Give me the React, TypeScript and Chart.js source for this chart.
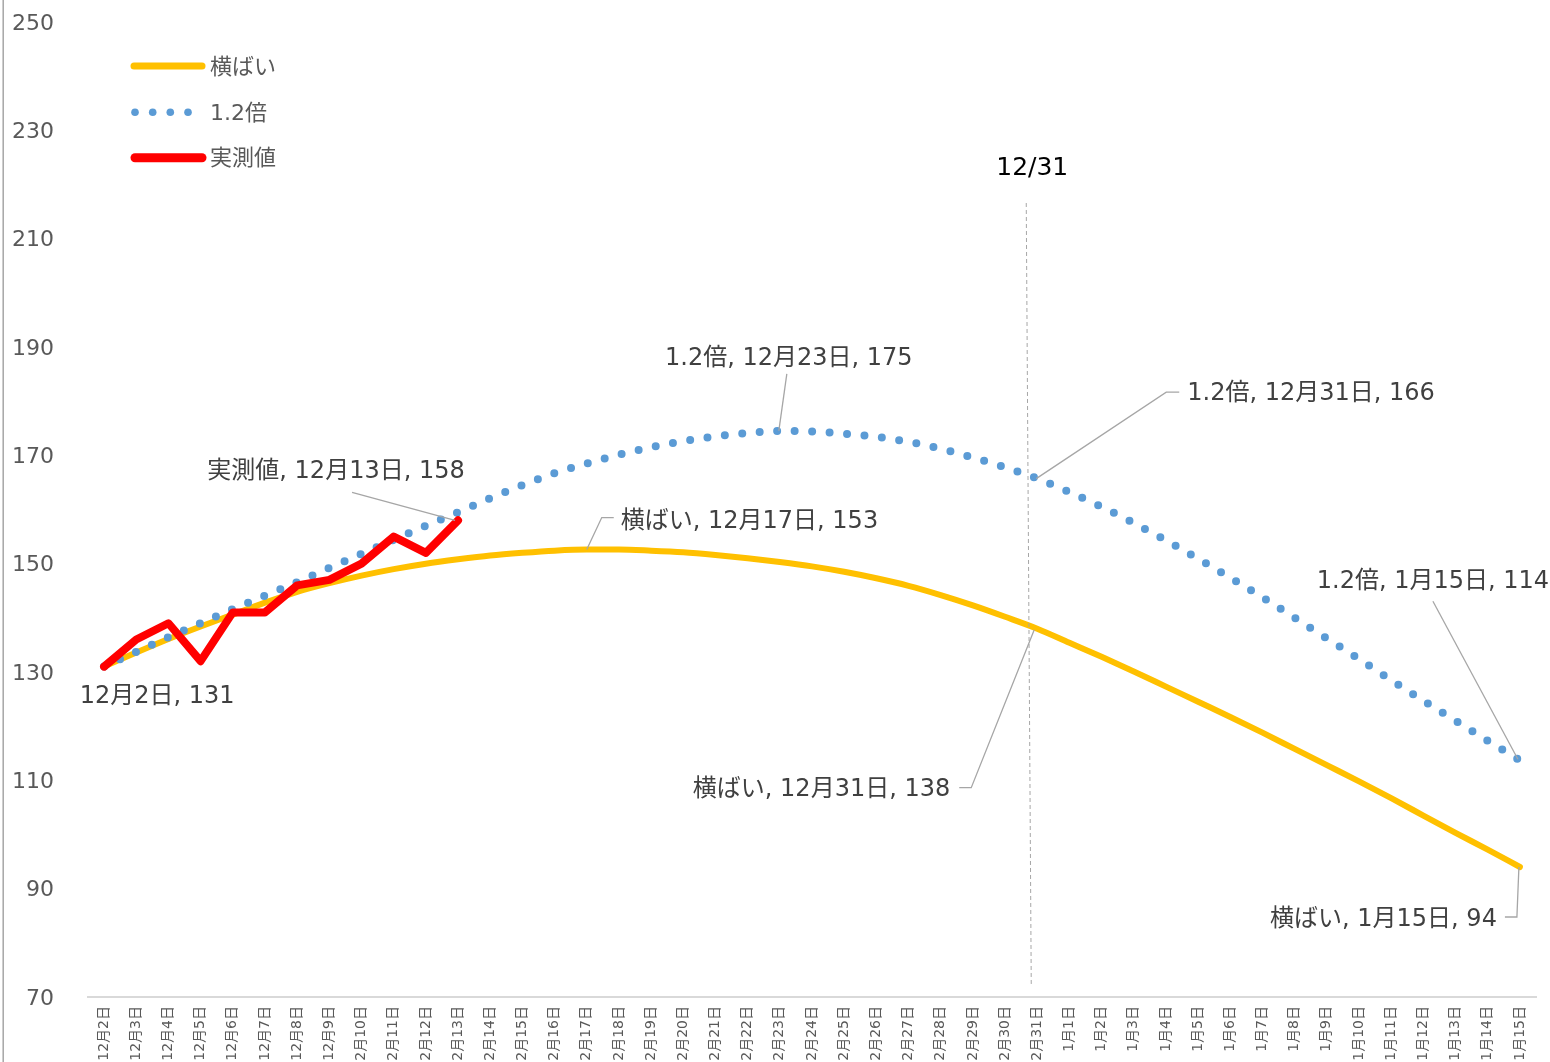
import React, { useEffect, useRef } from 'react';
import { Chart, registerables } from 'chart.js';

Chart.register(...registerables);

const categories = [
  '12月2日', '12月3日', '12月4日', '12月5日', '12月6日', '12月7日', '12月8日', '12月9日',
  '12月10日', '12月11日', '12月12日', '12月13日', '12月14日', '12月15日', '12月16日',
  '12月17日', '12月18日', '12月19日', '12月20日', '12月21日', '12月22日', '12月23日',
  '12月24日', '12月25日', '12月26日', '12月27日', '12月28日', '12月29日', '12月30日',
  '12月31日', '1月1日', '1月2日', '1月3日', '1月4日', '1月5日', '1月6日', '1月7日',
  '1月8日', '1月9日', '1月10日', '1月11日', '1月12日', '1月13日', '1月14日', '1月15日',
];

const flatValues = [
  131.0, 133.6, 136.1, 138.4, 140.6, 142.8, 144.8, 146.4, 147.8, 149.0, 150.0, 150.8,
  151.5, 152.0, 152.4, 152.6, 152.6, 152.4, 152.1, 151.6, 151.0, 150.3, 149.5, 148.5,
  147.3, 145.9, 144.2, 142.3, 140.2, 138.0, 135.4, 132.8, 130.1, 127.3, 124.5, 121.7,
  118.8, 115.8, 112.8, 109.8, 106.7, 103.5, 100.3, 97.2, 94.0,
];

const ratioValues = [
  131.0, 133.7, 136.4, 139.0, 141.6, 144.1, 146.6, 149.2, 151.8, 154.4, 157.0, 159.5,
  162.1, 164.5, 166.7, 168.5, 170.1, 171.5, 172.6, 173.5, 174.1, 174.5, 174.4, 174.0,
  173.4, 172.5, 171.2, 169.6, 167.8, 165.7, 163.2, 160.5, 157.5, 154.3, 150.9, 147.4,
  143.8, 140.0, 136.2, 132.4, 128.5, 124.7, 121.0, 117.3, 113.7,
];

const actualValues = [131, 136, 139, 132, 141, 141, 146, 147, 150, 155, 152, 158];

const yMin = 70;
const yMax = 250;
const yStep = 20;

const SERIES_FLAT = '横ばい';
const SERIES_RATIO = '1.2倍';
const SERIES_ACTUAL = '実測値';
const MARK_LABEL = '12/31';
const MARK_INDEX = 29;

const FONT = "'DejaVu Sans', 'Noto Sans CJK JP', sans-serif";
const C_FLAT = '#FFC000';
const C_RATIO = '#5B9BD5';
const C_ACTUAL = '#FF0000';
const C_TEXT = '#404040';
const C_AXIS = '#595959';
const C_LEADER = '#a6a6a6';
const TEXT_DY = 2;

// data label definitions: dataset index, point index, offsets, alignment, leader polyline (relative to point)
const dataLabels = [
  { ds: 0, i: 0, noName: true, dx: 53, dy: 28, align: 'center', leader: [] as number[][] },
  { ds: 0, i: 11, dx: -122, dy: -51, align: 'center', leader: [[-106, -28], [-3, 0]] },
  { ds: 2, i: 15, dx: 34, dy: -30, align: 'left', leader: [[0, 0], [15, -32], [27, -32]] },
  { ds: 1, i: 21, dx: 9, dy: -74, align: 'center', leader: [[-1, 0], [7, -57]] },
  { ds: 1, i: 29, dx: 150, dy: -86.5, align: 'left', leader: [[-1, 0], [129, -86.5], [142, -86.5]] },
  { ds: 2, i: 29, dx: -87, dy: 159, align: 'right', leader: [[-3, 1], [-66, 159], [-78, 159]] },
  { ds: 1, i: 44, dx: -87, dy: -181, align: 'center', leader: [[-2, -1], [-87, -159]] },
  { ds: 2, i: 44, dx: -23, dy: 51, align: 'right', leader: [[-1, 0], [-3, 50], [-15, 50]] },
];

export default function App() {
  const ref = useRef<HTMLCanvasElement>(null);

  useEffect(() => {
    const canvas = ref.current;
    if (!canvas) return;

    const overlay = {
      id: 'overlay',
      afterDraw(chart: any) {
        const ctx = chart.ctx as CanvasRenderingContext2D;
        const xs = chart.scales.x;
        const ys = chart.scales.y;
        ctx.save();

        // left frame line
        ctx.strokeStyle = '#a6a6a6';
        ctx.lineWidth = 1.5;
        ctx.beginPath();
        ctx.moveTo(3.2, 0);
        ctx.lineTo(3.2, chart.height);
        ctx.stroke();

        // vertical marker line at 12/31
        const mx = xs.getPixelForValue(MARK_INDEX);
        ctx.strokeStyle = '#a6a6a6';
        ctx.lineWidth = 1;
        ctx.setLineDash([4, 3]);
        ctx.beginPath();
        ctx.moveTo(mx - 11, 203);
        ctx.lineTo(mx - 6, 984);
        ctx.stroke();
        ctx.setLineDash([]);

        ctx.fillStyle = '#000000';
        ctx.font = `25px ${FONT}`;
        ctx.textAlign = 'center';
        ctx.textBaseline = 'middle';
        ctx.fillText(MARK_LABEL, mx - 5, 166 + TEXT_DY);

        // data labels
        const dsData = [actualValues, ratioValues, flatValues];
        const dsNames = [SERIES_ACTUAL, SERIES_RATIO, SERIES_FLAT];
        ctx.font = `24px ${FONT}`;
        for (const l of dataLabels) {
          const v = dsData[l.ds][l.i];
          const px = xs.getPixelForValue(l.i);
          const py = ys.getPixelForValue(v);
          if (l.leader.length > 1) {
            ctx.strokeStyle = C_LEADER;
            ctx.lineWidth = 1.3;
            ctx.beginPath();
            l.leader.forEach((p, k) => {
              if (k === 0) ctx.moveTo(px + p[0], py + p[1]);
              else ctx.lineTo(px + p[0], py + p[1]);
            });
            ctx.stroke();
          }
          const text = (l.noName ? '' : dsNames[l.ds] + ', ') + categories[l.i] + ', ' + Math.round(v);
          ctx.fillStyle = C_TEXT;
          ctx.textAlign = l.align as CanvasTextAlign;
          ctx.textBaseline = 'middle';
          ctx.fillText(text, px + l.dx, py + l.dy + TEXT_DY);
        }

        // legend
        ctx.lineCap = 'round';
        ctx.strokeStyle = C_FLAT;
        ctx.lineWidth = 7;
        ctx.beginPath();
        ctx.moveTo(134, 66);
        ctx.lineTo(202, 66);
        ctx.stroke();

        ctx.fillStyle = C_RATIO;
        [135, 152.7, 170.3, 188].forEach((x) => {
          ctx.beginPath();
          ctx.arc(x, 112.3, 3.8, 0, Math.PI * 2);
          ctx.fill();
        });

        ctx.strokeStyle = C_ACTUAL;
        ctx.lineWidth = 9;
        ctx.beginPath();
        ctx.moveTo(135, 157.7);
        ctx.lineTo(202, 157.7);
        ctx.stroke();

        ctx.fillStyle = C_AXIS;
        ctx.font = `22px ${FONT}`;
        ctx.textAlign = 'left';
        ctx.textBaseline = 'middle';
        ctx.fillText(SERIES_FLAT, 210, 66 + TEXT_DY);
        ctx.fillText(SERIES_RATIO, 210, 112.3 + TEXT_DY);
        ctx.fillText(SERIES_ACTUAL, 210, 157.7 + TEXT_DY);

        ctx.restore();
      },
    };

    const chart = new Chart(canvas, {
      type: 'line',
      data: {
        labels: categories,
        datasets: [
          {
            label: SERIES_ACTUAL,
            data: actualValues,
            borderColor: C_ACTUAL,
            borderWidth: 8,
            borderJoinStyle: 'round',
            borderCapStyle: 'round',
            pointRadius: 0,
            tension: 0,
            order: 0,
          },
          {
            label: SERIES_RATIO,
            data: ratioValues,
            borderColor: C_RATIO,
            borderWidth: 8,
            borderDash: [0, 17.5],
            borderCapStyle: 'round',
            pointRadius: 0,
            cubicInterpolationMode: 'monotone',
            order: 1,
          },
          {
            label: SERIES_FLAT,
            data: flatValues,
            borderColor: C_FLAT,
            borderWidth: 6,
            borderCapStyle: 'round',
            pointRadius: 0,
            cubicInterpolationMode: 'monotone',
            order: 2,
          },
        ],
      },
      options: {
        responsive: false,
        animation: false,
        devicePixelRatio: 1,
        layout: { padding: { top: 22, right: 14, left: 0, bottom: 0 } },
        plugins: { legend: { display: false }, tooltip: { enabled: false } },
        scales: {
          x: {
            type: 'category',
            offset: true,
            grid: { display: false, drawTicks: false },
            border: { display: true, color: '#d9d9d9', width: 2 },
            ticks: {
              autoSkip: false,
              minRotation: 90,
              maxRotation: 90,
              padding: 9,
              color: C_AXIS,
              font: { family: FONT, size: 14 },
            },
            afterFit: (s: any) => {
              s.height = 65;
              s.paddingLeft = 0;
              s.paddingRight = 0;
            },
          },
          y: {
            min: yMin,
            max: yMax,
            grid: { display: false, drawTicks: false },
            border: { display: false },
            ticks: {
              stepSize: yStep,
              padding: 34,
              labelOffset: TEXT_DY,
              color: C_AXIS,
              font: { family: FONT, size: 22 },
            },
            afterFit: (s: any) => {
              s.width = 88;
              s.paddingTop = 0;
              s.paddingBottom = 0;
            },
          },
        },
      },
      plugins: [overlay],
    } as any);

    return () => chart.destroy();
  }, []);

  return (
    <div
      style={{
        position: 'absolute',
        left: 0,
        top: 0,
        width: 1550,
        height: 1062,
        overflow: 'hidden',
        background: '#ffffff',
      }}
    >
      <canvas ref={ref} width={1550} height={1062} style={{ display: 'block' }} />
    </div>
  );
}
